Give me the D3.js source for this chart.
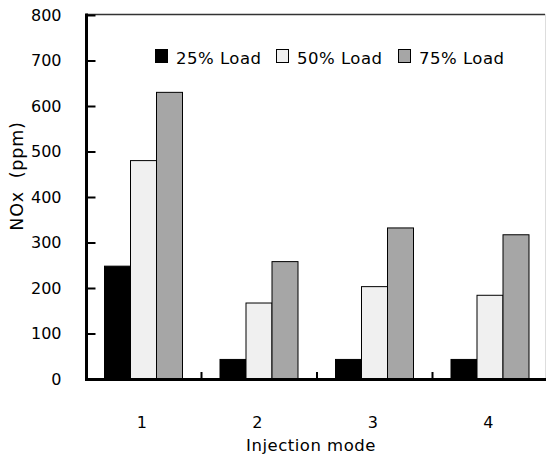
<!DOCTYPE html>
<html><head><meta charset="utf-8">
<script src="https://cdn.jsdelivr.net/npm/d3@7"></script>
<style>body{margin:0;background:#fff}svg{display:block}text{font-family:"DejaVu Sans",Verdana,sans-serif}</style>
</head><body>
<script>
const categories = ["1","2","3","4"];
const seriesNames = ["25% Load","50% Load","75% Load"];
const load25 = [248, 43, 43, 43];
const load50 = [480, 167, 203, 184];
const load75 = [630, 258, 332, 317];
const yTicks = [0,100,200,300,400,500,600,700,800];
const colors = ["#000000","#f0f0f0","#a6a6a6"];
const series = [load25, load50, load75];

const W = 546, H = 457;
const svg = d3.select("body").append("svg").attr("width",W).attr("height",H);
const x = d3.scaleBand().domain(categories).range([86,548]).paddingInner(0).paddingOuter(0);
const xi = d3.scaleBand().domain(d3.range(3)).range([18.5, x.bandwidth()-19]);
const y = d3.scaleLinear().domain([0,800]).range([379,15]);

// frame
svg.append("line").attr("x1",86).attr("x2",545).attr("y1",14.5).attr("y2",14.5).attr("stroke","#333").attr("stroke-width",1.5);
svg.append("line").attr("x1",545.5).attr("x2",545.5).attr("y1",14).attr("y2",380).attr("stroke","#ddd").attr("stroke-width",1);

// bars
categories.forEach((c,i)=>{
  series.forEach((s,j)=>{
    svg.append("rect")
      .attr("x", x(c)+xi(j)).attr("width", xi.bandwidth())
      .attr("y", y(s[i])).attr("height", y(0)-y(s[i]))
      .attr("fill", colors[j]).attr("stroke","#000").attr("stroke-width",1);
  });
});

// y axis
const ya = svg.append("g").attr("transform","translate(86.5,0)")
  .call(d3.axisLeft(y).tickValues(yTicks).tickSize(-9).tickPadding(25));
ya.select(".domain").remove();
ya.selectAll(".tick line").attr("stroke","#000").attr("stroke-width",2);
ya.selectAll(".tick text").attr("font-size",16).attr("fill","#000").attr("x",-25);
svg.append("line").attr("x1",86.5).attr("x2",86.5).attr("y1",13.5).attr("y2",381).attr("stroke","#000").attr("stroke-width",3);

// x axis
const xa = svg.append("g").attr("transform","translate(-2,379.5)")
  .call(d3.axisBottom(x).tickSize(0).tickPadding(37));
xa.select(".domain").remove();
xa.selectAll(".tick text").attr("font-size",16).attr("fill","#000");
// category separator ticks
svg.selectAll(".sep").data(categories.slice(1)).enter().append("line")
  .attr("x1",d=>x(d)).attr("x2",d=>x(d)).attr("y1",372).attr("y2",380)
  .attr("stroke","#000").attr("stroke-width",2);
svg.append("line").attr("x1",85).attr("x2",546).attr("y1",379.5).attr("y2",379.5).attr("stroke","#000").attr("stroke-width",3);

// labels
svg.append("text").attr("x",W/2+38).attr("y",451).attr("text-anchor","middle").attr("font-size",16.5).attr("letter-spacing",0.5).text("Injection mode");
svg.append("text").attr("transform","translate(23,176) rotate(-90)").attr("text-anchor","middle")
  .attr("font-size",17.5).attr("letter-spacing",0.8).text("NOx\u00a0\u00a0(ppm)");

// legend
const lx = [155, 276, 398];
seriesNames.forEach((n,j)=>{
  svg.append("rect").attr("x",lx[j]+0.5).attr("y",49.5).attr("width",12).attr("height",13)
    .attr("fill",colors[j]).attr("stroke","#000").attr("stroke-width",1);
  svg.append("text").attr("x",lx[j]+21).attr("y",64).attr("font-size",16.5).attr("letter-spacing",0.5).text(n);
});
</script>
</body></html>
